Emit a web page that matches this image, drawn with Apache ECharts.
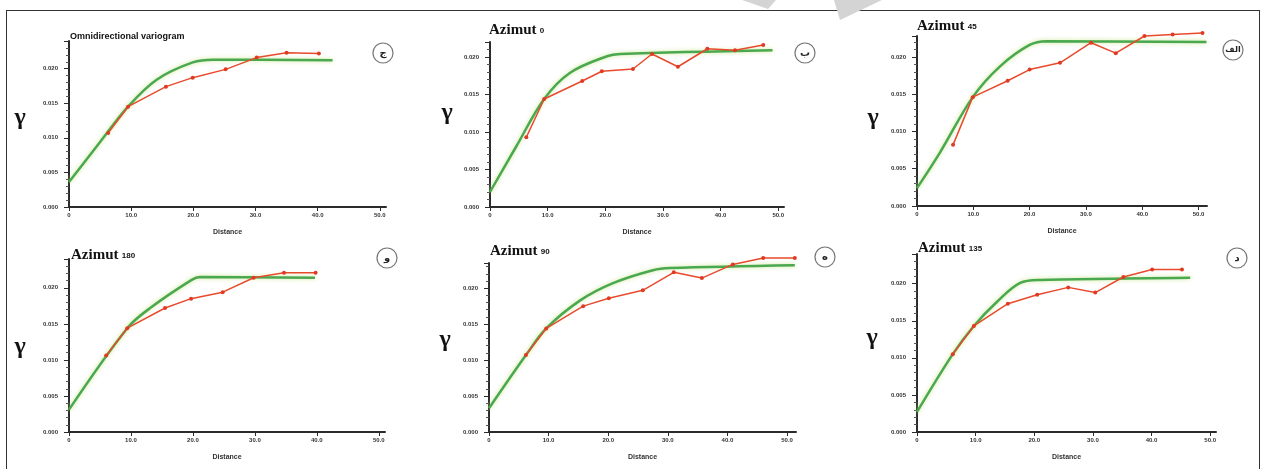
<!DOCTYPE html>
<html>
<head>
<meta charset="utf-8">
<script src="https://cdn.jsdelivr.net/npm/echarts@6/dist/echarts.min.js"></script>
<style>
  html, body { margin: 0; padding: 0; background: #fff; }
  #frame { position: absolute; left: 6px; top: 10px; width: 1254px; height: 470px; border: 1.5px solid #333; box-sizing: border-box; }
  #chart { position: absolute; left: 0; top: 0; width: 1263px; height: 469px; }
</style>
</head>
<body>
<div id="frame"></div>
<div id="chart"></div>
<script>
  // tick labels
  var xTicks = [0, 10, 20, 30, 40, 50];
  var xTickLabels = ['0', '10.0', '20.0', '30.0', '40.0', '50.0'];
  var yTicks = [0, 5, 10, 15, 20];
  var yTickLabels = ['0.000', '0.005', '0.010', '0.015', '0.020'];

  // omnidirectional
  var omniLag = [6.3, 9.5, 15.6, 19.9, 25.2, 30.2, 35.0, 40.2];
  var omniGamma = [10.7, 14.5, 17.4, 18.7, 19.9, 21.6, 22.3, 22.2];
  var omniModelLag = [0, 5, 9.5, 14.1, 19.9, 23.2, 42.4];
  var omniModelGamma = [3.6, 9.4, 14.5, 18.4, 20.9, 21.3, 21.2];

  // azimut 0
  var az0Lag = [6.3, 9.4, 16.0, 19.4, 24.8, 28.1, 32.6, 37.7, 42.5, 47.4];
  var az0Gamma = [9.3, 14.4, 16.8, 18.1, 18.4, 20.4, 18.7, 21.1, 20.9, 21.6];
  var az0ModelLag = [0, 4.5, 9.4, 13.9, 20.3, 22.6, 49.0];
  var az0ModelGamma = [2.0, 8.0, 14.4, 17.9, 20.1, 20.4, 20.9];

  // azimut 45
  var az45Lag = [6.4, 9.9, 16.1, 20.0, 25.4, 30.9, 35.3, 40.4, 45.4, 50.7];
  var az45Gamma = [8.2, 14.6, 16.8, 18.3, 19.2, 21.9, 20.5, 22.8, 23.0, 23.2];
  var az45ModelLag = [0, 4.1, 9.9, 14.7, 20.0, 23.0, 51.4];
  var az45ModelGamma = [2.4, 7.2, 14.6, 18.7, 21.6, 22.1, 22.0];

  // azimut 180
  var az180Lag = [6.0, 9.4, 15.5, 19.7, 24.8, 29.8, 34.7, 39.8];
  var az180Gamma = [10.6, 14.4, 17.2, 18.5, 19.4, 21.4, 22.1, 22.1];
  var az180ModelLag = [0, 9.4, 13.1, 19.8, 21.1, 39.7];
  var az180ModelGamma = [3.1, 14.4, 17.2, 21.1, 21.5, 21.4];

  // azimut 90
  var az90Lag = [6.2, 9.6, 15.8, 20.1, 25.8, 31.0, 35.7, 40.9, 46.0, 51.3];
  var az90Gamma = [10.7, 14.4, 17.5, 18.6, 19.7, 22.2, 21.4, 23.3, 24.2, 24.2];
  var az90ModelLag = [0, 6.2, 9.6, 15.3, 20.8, 27.5, 30.4, 51.3];
  var az90ModelGamma = [3.3, 10.7, 14.4, 18.3, 20.7, 22.5, 22.8, 23.2];

  // azimut 135
  var az135Lag = [6.1, 9.7, 15.5, 20.5, 25.8, 30.4, 35.2, 40.1, 45.2];
  var az135Gamma = [10.5, 14.3, 17.3, 18.5, 19.5, 18.8, 20.9, 21.9, 21.9];
  var az135ModelLag = [0, 6.1, 9.7, 13.7, 17.6, 21.0, 46.6];
  var az135ModelGamma = [2.7, 10.5, 14.3, 17.6, 20.1, 20.5, 20.8];

  function pairs(xs, ys) {
    return xs.map(function (x, i) { return [x, ys[i]]; });
  }

  // panel layout: grid box, axis max, title, letter, gamma sign position
  var panels = [
    { lag: omniLag, gamma: omniGamma, mLag: omniModelLag, mGamma: omniModelGamma,
      grid: { left: 69, top: 41, width: 317, height: 166 }, xMax: 51, yMax: 24,
      title: 'Omnidirectional variogram', small: true, tx: 70, ty: 38, letter: 'ج', cx: 383, cy: 53, gx: 20, gy: 118 },
    { lag: az0Lag, gamma: az0Gamma, mLag: az0ModelLag, mGamma: az0ModelGamma,
      grid: { left: 490, top: 42, width: 294, height: 165 }, xMax: 51, yMax: 22,
      title: '0', tx: 489, ty: 32, letter: 'ب', cx: 805, cy: 53, gx: 447, gy: 113 },
    { lag: az45Lag, gamma: az45Gamma, mLag: az45ModelLag, mGamma: az45ModelGamma,
      grid: { left: 917, top: 36, width: 290, height: 170 }, xMax: 51.5, yMax: 22.8,
      title: '45', tx: 917, ty: 28, letter: 'الف', cx: 1233, cy: 50, gx: 873, gy: 118 },
    { lag: az180Lag, gamma: az180Gamma, mLag: az180ModelLag, mGamma: az180ModelGamma,
      grid: { left: 69, top: 259, width: 316, height: 173 }, xMax: 51, yMax: 24,
      title: '180', tx: 71, ty: 257, letter: 'و', cx: 387, cy: 258, gx: 20, gy: 347 },
    { lag: az90Lag, gamma: az90Gamma, mLag: az90ModelLag, mGamma: az90ModelGamma,
      grid: { left: 489, top: 263, width: 307, height: 169 }, xMax: 51.5, yMax: 23.5,
      title: '90', tx: 490, ty: 253, letter: 'ه', cx: 825, cy: 257, gx: 445, gy: 340 },
    { lag: az135Lag, gamma: az135Gamma, mLag: az135ModelLag, mGamma: az135ModelGamma,
      grid: { left: 917, top: 254, width: 299, height: 178 }, xMax: 51, yMax: 24,
      title: '135', tx: 918, ty: 250, letter: 'د', cx: 1237, cy: 258, gx: 872, gy: 338 }
  ];

  var grids = [], xAxes = [], yAxes = [], series = [], graphics = [];
  var axisCol = '#2b2b2b';

  panels.forEach(function (p, i) {
    grids.push(p.grid);
    xAxes.push({
      type: 'value', gridIndex: i, min: 0, max: p.xMax, interval: 10,
      name: 'Distance', nameLocation: 'middle', nameGap: 22,
      nameTextStyle: { fontSize: 7, fontWeight: 'bold', color: '#333' },
      splitLine: { show: false },
      axisLine: { lineStyle: { color: axisCol, width: 2 } },
      axisTick: { length: 4, lineStyle: { color: axisCol } },
      axisLabel: { fontSize: 6, fontWeight: 'bold', color: '#333', margin: 5, showMaxLabel: false,
        formatter: function (v) { var k = xTicks.indexOf(v); return k < 0 ? '' : xTickLabels[k]; } }
    });
    yAxes.push({
      type: 'value', gridIndex: i, min: 0, max: p.yMax, interval: 5,
      splitLine: { show: false },
      axisLine: { lineStyle: { color: axisCol, width: 2 } },
      axisTick: { length: 5, lineStyle: { color: axisCol } },
      minorTick: { show: true, splitNumber: 5, length: 3, lineStyle: { color: '#555' } },
      axisLabel: { fontSize: 6, fontWeight: 'bold', color: '#333', margin: 11, showMaxLabel: false,
        formatter: function (v) { var k = yTicks.indexOf(v); return k < 0 ? '' : yTickLabels[k]; } }
    });
    series.push({
      type: 'line', xAxisIndex: i, yAxisIndex: i, data: pairs(p.mLag, p.mGamma),
      smooth: 0.35, showSymbol: false, z: 2, clip: false,
      lineStyle: { color: '#4aa84e', width: 2.5, shadowColor: 'rgba(190,225,120,0.8)', shadowBlur: 4 }
    });
    series.push({
      type: 'line', xAxisIndex: i, yAxisIndex: i, data: pairs(p.lag, p.gamma),
      symbol: 'circle', symbolSize: 4, z: 3, clip: false,
      lineStyle: { color: '#e84a2c', width: 1.5 },
      itemStyle: { color: '#e03a22' }
    });

    // panel title
    if (p.small) {
      graphics.push({ type: 'text', left: p.tx, top: p.ty - 6,
        style: { text: p.title, font: 'bold 9px "Liberation Sans"', fill: '#111' } });
    } else {
      graphics.push({ type: 'text', left: p.tx, top: p.ty - 9,
        style: { text: '{a|Azimut} {b|' + p.title + '}',
          rich: { a: { font: 'bold 15px "Liberation Serif"', fill: '#111' },
                  b: { font: 'bold 8px "Liberation Sans"', fill: '#111' } } } });
    }
    // gamma symbol
    graphics.push({ type: 'text', x: p.gx, y: p.gy,
      style: { text: 'γ', font: 'bold 24px "Liberation Serif"', fill: '#111', align: 'center', verticalAlign: 'middle' } });
    // circled letter
    graphics.push({ type: 'circle', shape: { cx: p.cx, cy: p.cy, r: 10 },
      style: { fill: '#fff', stroke: '#777', lineWidth: 1.2 } });
    graphics.push({ type: 'text', x: p.cx, y: p.cy,
      style: { text: p.letter, font: 'bold ' + (p.letter.length > 1 ? 8 : 10) + 'px "DejaVu Sans"',
        fill: '#222', align: 'center', verticalAlign: 'middle' } });
  });

  // light grey watermark marks at the top
  graphics.push({ type: 'polygon', shape: { points: [[742, 0], [776, 0], [768, 9]] }, style: { fill: '#d4d4d4' } });
  graphics.push({ type: 'polygon', shape: { points: [[834, 0], [882, 0], [840, 20]] }, style: { fill: '#d4d4d4' } });

  var myChart = echarts.init(document.getElementById('chart'));
  myChart.setOption({
    animation: false,
    backgroundColor: 'transparent',
    grid: grids,
    xAxis: xAxes,
    yAxis: yAxes,
    series: series,
    graphic: graphics
  });
</script>
</body>
</html>
